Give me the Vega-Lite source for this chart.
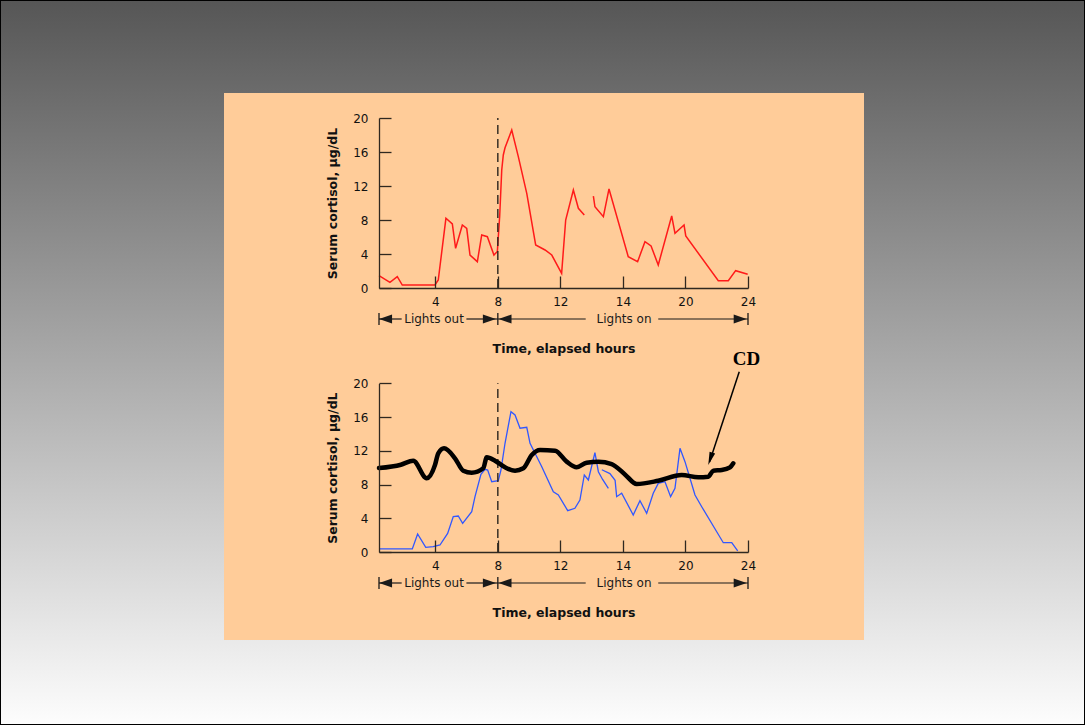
{
  "$schema": "https://vega.github.io/schema/vega-lite/v6.json",
  "width": 1085,
  "height": 725,
  "autosize": {"type": "fit", "contains": "padding"},
  "padding": 0,
  "background": "#ffffff",
  "view": {
    "fill": {"gradient": "linear", "x1": 0, "y1": 0, "x2": 0, "y2": 1, "stops": [{"offset": 0, "color": "#565656"}, {"offset": 1, "color": "#fdfdfd"}]},
    "stroke": "#000000",
    "strokeWidth": 2
  },
  "config": {
    "font": "DejaVu Sans",
    "axis": {
      "grid": false,
      "domainColor": "#2f2820",
      "domainWidth": 1.3,
      "tickColor": "#2f2820",
      "tickWidth": 1.3,
      "tickSize": -12,
      "labelFont": "DejaVu Sans",
      "labelFontSize": 12,
      "labelColor": "#111111",
      "labelFlush": false,
      "labelOverlap": false,
      "titleFont": "DejaVu Sans",
      "titleFontSize": 12.5,
      "titleFontWeight": "bold",
      "titleColor": "#111111"
    },
    "axisX": {"labelPadding": 20, "titlePadding": 35},
    "axisY": {"labelPadding": 23, "titlePadding": 13}
  },
  "datasets": {
    "redSerum": [
      {"hour": 0.4, "cortisol": 1.45, "segment": 1},
      {"hour": 1.1, "cortisol": 0.67, "segment": 1},
      {"hour": 1.57, "cortisol": 1.33, "segment": 1},
      {"hour": 1.89, "cortisol": 0.35, "segment": 1},
      {"hour": 3.98, "cortisol": 0.35, "segment": 1},
      {"hour": 4.19, "cortisol": 0.94, "segment": 1},
      {"hour": 4.68, "cortisol": 8.2, "segment": 1},
      {"hour": 5.09, "cortisol": 7.53, "segment": 1},
      {"hour": 5.3, "cortisol": 4.67, "segment": 1},
      {"hour": 5.73, "cortisol": 7.41, "segment": 1},
      {"hour": 6.01, "cortisol": 7.02, "segment": 1},
      {"hour": 6.22, "cortisol": 3.88, "segment": 1},
      {"hour": 6.69, "cortisol": 3.1, "segment": 1},
      {"hour": 6.97, "cortisol": 6.24, "segment": 1},
      {"hour": 7.33, "cortisol": 6.04, "segment": 1},
      {"hour": 7.75, "cortisol": 3.88, "segment": 1},
      {"hour": 7.97, "cortisol": 4.3, "segment": 1},
      {"hour": 8.12, "cortisol": 8.5, "segment": 1},
      {"hour": 8.25, "cortisol": 13.88, "segment": 1},
      {"hour": 8.35, "cortisol": 15.65, "segment": 1},
      {"hour": 8.46, "cortisol": 16.5, "segment": 1},
      {"hour": 8.89, "cortisol": 18.59, "segment": 1},
      {"hour": 9.31, "cortisol": 15.45, "segment": 1},
      {"hour": 9.85, "cortisol": 11.14, "segment": 1},
      {"hour": 10.42, "cortisol": 5.06, "segment": 1},
      {"hour": 11.02, "cortisol": 4.47, "segment": 1},
      {"hour": 11.45, "cortisol": 3.88, "segment": 1},
      {"hour": 12.08, "cortisol": 1.73, "segment": 1},
      {"hour": 12.34, "cortisol": 8.0, "segment": 1},
      {"hour": 12.83, "cortisol": 11.53, "segment": 1},
      {"hour": 13.15, "cortisol": 9.38, "segment": 1},
      {"hour": 13.53, "cortisol": 8.59, "segment": 1},
      {"hour": 14.11, "cortisol": 10.82, "segment": 2},
      {"hour": 14.21, "cortisol": 9.56, "segment": 2},
      {"hour": 14.75, "cortisol": 8.39, "segment": 2},
      {"hour": 15.11, "cortisol": 11.65, "segment": 2},
      {"hour": 16.34, "cortisol": 3.69, "segment": 2},
      {"hour": 16.94, "cortisol": 3.1, "segment": 2},
      {"hour": 17.41, "cortisol": 5.45, "segment": 2},
      {"hour": 17.8, "cortisol": 4.94, "segment": 2},
      {"hour": 18.26, "cortisol": 2.71, "segment": 2},
      {"hour": 19.12, "cortisol": 8.47, "segment": 2},
      {"hour": 19.33, "cortisol": 6.43, "segment": 2},
      {"hour": 19.91, "cortisol": 7.41, "segment": 2},
      {"hour": 20.02, "cortisol": 6.12, "segment": 2},
      {"hour": 22.1, "cortisol": 0.86, "segment": 2},
      {"hour": 22.74, "cortisol": 0.86, "segment": 2},
      {"hour": 23.21, "cortisol": 2.04, "segment": 2},
      {"hour": 23.98, "cortisol": 1.61, "segment": 2}
    ],
    "blueSerum": [
      {"hour": 0.4, "cortisol": 0.36, "segment": 1},
      {"hour": 2.53, "cortisol": 0.36, "segment": 1},
      {"hour": 2.87, "cortisol": 2.13, "segment": 1},
      {"hour": 3.39, "cortisol": 0.56, "segment": 1},
      {"hour": 3.87, "cortisol": 0.63, "segment": 1},
      {"hour": 4.3, "cortisol": 0.83, "segment": 1},
      {"hour": 4.79, "cortisol": 2.21, "segment": 1},
      {"hour": 5.15, "cortisol": 4.19, "segment": 1},
      {"hour": 5.47, "cortisol": 4.27, "segment": 1},
      {"hour": 5.75, "cortisol": 3.4, "segment": 1},
      {"hour": 6.33, "cortisol": 4.78, "segment": 1},
      {"hour": 6.54, "cortisol": 6.56, "segment": 1},
      {"hour": 6.92, "cortisol": 9.21, "segment": 1},
      {"hour": 7.18, "cortisol": 9.8, "segment": 1},
      {"hour": 7.35, "cortisol": 9.72, "segment": 1},
      {"hour": 7.61, "cortisol": 8.33, "segment": 1},
      {"hour": 8.03, "cortisol": 8.45, "segment": 1},
      {"hour": 8.2, "cortisol": 9.72, "segment": 1},
      {"hour": 8.46, "cortisol": 12.89, "segment": 1},
      {"hour": 8.84, "cortisol": 16.63, "segment": 1},
      {"hour": 9.1, "cortisol": 16.24, "segment": 1},
      {"hour": 9.42, "cortisol": 14.67, "segment": 1},
      {"hour": 9.85, "cortisol": 14.78, "segment": 1},
      {"hour": 10.06, "cortisol": 12.89, "segment": 1},
      {"hour": 10.81, "cortisol": 10.11, "segment": 1},
      {"hour": 11.55, "cortisol": 7.15, "segment": 1},
      {"hour": 11.87, "cortisol": 6.76, "segment": 1},
      {"hour": 12.47, "cortisol": 4.9, "segment": 1},
      {"hour": 12.93, "cortisol": 5.18, "segment": 1},
      {"hour": 13.25, "cortisol": 6.16, "segment": 1},
      {"hour": 13.53, "cortisol": 9.13, "segment": 1},
      {"hour": 13.79, "cortisol": 8.54, "segment": 1},
      {"hour": 14.21, "cortisol": 11.77, "segment": 1},
      {"hour": 14.43, "cortisol": 9.52, "segment": 1},
      {"hour": 14.7, "cortisol": 8.6, "segment": 1},
      {"hour": 15.07, "cortisol": 7.55, "segment": 1},
      {"hour": 14.65, "cortisol": 9.75, "segment": 2},
      {"hour": 15.17, "cortisol": 9.3, "segment": 2},
      {"hour": 15.5, "cortisol": 8.5, "segment": 2},
      {"hour": 15.6, "cortisol": 6.56, "segment": 2},
      {"hour": 15.92, "cortisol": 6.96, "segment": 2},
      {"hour": 16.66, "cortisol": 4.39, "segment": 2},
      {"hour": 17.09, "cortisol": 6.08, "segment": 2},
      {"hour": 17.52, "cortisol": 4.59, "segment": 2},
      {"hour": 17.94, "cortisol": 6.96, "segment": 2},
      {"hour": 18.26, "cortisol": 8.14, "segment": 2},
      {"hour": 18.69, "cortisol": 8.33, "segment": 2},
      {"hour": 19.05, "cortisol": 6.56, "segment": 2},
      {"hour": 19.33, "cortisol": 7.55, "segment": 2},
      {"hour": 19.65, "cortisol": 12.29, "segment": 2},
      {"hour": 19.97, "cortisol": 10.71, "segment": 2},
      {"hour": 20.61, "cortisol": 6.76, "segment": 2},
      {"hour": 21.04, "cortisol": 5.37, "segment": 2},
      {"hour": 22.42, "cortisol": 1.1, "segment": 2},
      {"hour": 22.96, "cortisol": 1.1, "segment": 2},
      {"hour": 23.34, "cortisol": 0.12, "segment": 2}
    ],
    "cdSerum": [
      {"hour": 0.4, "cortisol": 9.95},
      {"hour": 1.8, "cortisol": 10.35},
      {"hour": 2.59, "cortisol": 10.82},
      {"hour": 3.45, "cortisol": 8.74},
      {"hour": 3.98, "cortisol": 10.31},
      {"hour": 4.19, "cortisol": 11.7},
      {"hour": 4.56, "cortisol": 12.29},
      {"hour": 5.26, "cortisol": 11.11},
      {"hour": 5.79, "cortisol": 9.64},
      {"hour": 6.33, "cortisol": 9.4},
      {"hour": 7.07, "cortisol": 9.92},
      {"hour": 7.29, "cortisol": 11.23},
      {"hour": 7.82, "cortisol": 10.82},
      {"hour": 8.46, "cortisol": 10.04},
      {"hour": 9.1, "cortisol": 9.64},
      {"hour": 9.63, "cortisol": 9.92},
      {"hour": 10.17, "cortisol": 11.5},
      {"hour": 10.7, "cortisol": 12.09},
      {"hour": 11.66, "cortisol": 12.01},
      {"hour": 12.4, "cortisol": 10.71},
      {"hour": 13.04, "cortisol": 10.04},
      {"hour": 13.68, "cortisol": 10.59},
      {"hour": 14.43, "cortisol": 10.71},
      {"hour": 15.28, "cortisol": 10.43},
      {"hour": 16.13, "cortisol": 9.2},
      {"hour": 16.88, "cortisol": 8.06},
      {"hour": 18.26, "cortisol": 8.45},
      {"hour": 19.76, "cortisol": 9.13},
      {"hour": 20.82, "cortisol": 8.86},
      {"hour": 21.46, "cortisol": 8.93},
      {"hour": 21.78, "cortisol": 9.64},
      {"hour": 22.32, "cortisol": 9.72},
      {"hour": 22.85, "cortisol": 10.04},
      {"hour": 23.06, "cortisol": 10.52}
    ],
    "lightsLines": [
      {"row": 0, "hour": 0.4, "hourEnd": 1.85},
      {"row": 0, "hour": 5.99, "hourEnd": 8},
      {"row": 0, "hour": 8, "hourEnd": 13.62},
      {"row": 0, "hour": 18.26, "hourEnd": 24},
      {"row": 1, "hour": 0.4, "hourEnd": 1.85},
      {"row": 1, "hour": 5.99, "hourEnd": 8},
      {"row": 1, "hour": 8, "hourEnd": 13.62},
      {"row": 1, "hour": 18.26, "hourEnd": 24}
    ],
    "lightsBars": [
      {"row": 0, "hour": 0.4}, {"row": 0, "hour": 8}, {"row": 0, "hour": 24},
      {"row": 1, "hour": 0.4}, {"row": 1, "hour": 8}, {"row": 1, "hour": 24}
    ],
    "lightsHeads": [
      {"row": 0, "hour": 0.82, "dir": "left"}, {"row": 0, "hour": 7.46, "dir": "right"},
      {"row": 0, "hour": 8.46, "dir": "left"}, {"row": 0, "hour": 23.5, "dir": "right"},
      {"row": 1, "hour": 0.82, "dir": "left"}, {"row": 1, "hour": 7.46, "dir": "right"},
      {"row": 1, "hour": 8.46, "dir": "left"}, {"row": 1, "hour": 23.5, "dir": "right"}
    ],
    "lightsLabels": [
      {"row": 0, "hour": 3.92, "label": "Lights out"},
      {"row": 0, "hour": 16.07, "label": "Lights on"},
      {"row": 1, "hour": 3.92, "label": "Lights out"},
      {"row": 1, "hour": 16.07, "label": "Lights on"}
    ]
  },
  "layer": [
    {
      "data": {"values": [{"panel": "slide"}]},
      "mark": {"type": "rect", "color": "#FFCC99", "opacity": 1},
      "encoding": {
        "x": {"datum": 0, "type": "quantitative", "scale": {"domain": [0, 1], "range": [224, 864], "nice": false}, "axis": null},
        "x2": {"datum": 1},
        "y": {"datum": 0, "type": "quantitative", "scale": {"domain": [0, 1], "range": [93, 640], "nice": false}, "axis": null},
        "y2": {"datum": 1}
      }
    },
    {
      "data": {"name": "redSerum"},
      "encoding": {
        "x": {"field": "hour", "type": "quantitative", "scale": {"domain": [0.4, 24], "range": [379, 748], "nice": false, "zero": false},
              "axis": {"orient": "bottom", "offset": -437, "zindex": 2, "values": [4, 8, 12, 16, 20, 24], "labelExpr": "datum.value == 16 ? '14' : datum.label", "title": "Time, elapsed hours"}},
        "y": {"field": "cortisol", "type": "quantitative", "scale": {"domain": [0, 20], "range": [288, 118], "nice": false},
              "axis": {"orient": "left", "offset": -379, "zindex": 2, "values": [0, 4, 8, 12, 16, 20], "title": "Serum cortisol, µg/dL"}}
      },
      "layer": [
        {"mark": {"type": "line", "color": "#ff1a1a", "strokeWidth": 1.5}, "encoding": {"detail": {"field": "segment"}}},
        {"data": {"values": [{"hour": 8, "cortisol": 0, "cortisolEnd": 20}]}, "mark": {"type": "rule", "color": "#2a241e", "strokeDash": [9, 5], "strokeWidth": 1.4},
         "encoding": {"y2": {"field": "cortisolEnd"}}}
      ]
    },
    {
      "data": {"name": "blueSerum"},
      "encoding": {
        "x": {"field": "hour", "type": "quantitative", "scale": {"domain": [0.4, 24], "range": [379, 748], "nice": false, "zero": false},
              "axis": {"orient": "bottom", "offset": -173, "zindex": 2, "values": [4, 8, 12, 16, 20, 24], "labelExpr": "datum.value == 16 ? '14' : datum.label", "title": "Time, elapsed hours"}},
        "y": {"field": "cortisol", "type": "quantitative", "scale": {"domain": [0, 20], "range": [552, 383.3], "nice": false},
              "axis": {"orient": "left", "offset": -379, "zindex": 2, "values": [0, 4, 8, 12, 16, 20], "title": "Serum cortisol, µg/dL"}}
      },
      "layer": [
        {"mark": {"type": "line", "color": "#3157ff", "strokeWidth": 1.3}, "encoding": {"detail": {"field": "segment"}}},
        {"data": {"values": [{"hour": 8, "cortisol": 0, "cortisolEnd": 20}]}, "mark": {"type": "rule", "color": "#2a241e", "strokeDash": [9, 5], "strokeWidth": 1.4},
         "encoding": {"y2": {"field": "cortisolEnd"}}},
        {"data": {"name": "cdSerum"}, "mark": {"type": "line", "color": "#000000", "strokeWidth": 4.5, "interpolate": "monotone", "strokeCap": "round", "strokeJoin": "round"}},
        {"data": {"values": [{"hour": 23.44, "cortisol": 21.38, "hourEnd": 21.54, "cortisolEnd": 10.67}]},
         "mark": {"type": "rule", "color": "#000000", "strokeWidth": 1.5},
         "encoding": {"x2": {"field": "hourEnd"}, "y2": {"field": "cortisolEnd"}}},
        {"data": {"values": [{"hour": 21.59, "cortisol": 11.05}]},
         "mark": {"type": "point", "shape": "M0,-1L0.45,1L-0.45,1Z", "size": 169, "angle": 198.4, "filled": true, "color": "#000000", "opacity": 1}},
        {"data": {"values": [{"hour": 23.9, "cortisol": 22.88, "label": "CD"}]},
         "mark": {"type": "text", "font": "Liberation Serif", "fontWeight": "bold", "fontSize": 19, "color": "#000000"},
         "encoding": {"text": {"field": "label"}}}
      ]
    },
    {
      "encoding": {
        "x": {"field": "hour", "type": "quantitative", "scale": {"domain": [0.4, 24], "range": [379, 748], "nice": false, "zero": false}, "axis": null},
        "y": {"field": "row", "type": "quantitative", "scale": {"domain": [0, 1], "range": [319, 583], "nice": false}, "axis": null}
      },
      "layer": [
        {"data": {"name": "lightsLines"}, "mark": {"type": "rule", "color": "#1a1a1a", "strokeWidth": 1.2},
         "encoding": {"x2": {"field": "hourEnd"}}},
        {"data": {"name": "lightsBars"}, "mark": {"type": "tick", "orient": "vertical", "color": "#1a1a1a", "size": 12, "thickness": 1.3, "opacity": 1}},
        {"data": {"name": "lightsHeads"}, "mark": {"type": "point", "size": 169, "filled": true, "color": "#1a1a1a", "opacity": 1},
         "encoding": {"shape": {"field": "dir", "type": "nominal", "scale": {"domain": ["left", "right"], "range": ["M-1,0L1,-0.7L1,0.7Z", "M1,0L-1,-0.7L-1,0.7Z"]}, "legend": null}}},
        {"data": {"name": "lightsLabels"}, "mark": {"type": "text", "fontSize": 12, "color": "#1a1a1a", "baseline": "middle"},
         "encoding": {"text": {"field": "label"}}}
      ]
    }
  ],
  "resolve": {
    "scale": {"x": "independent", "y": "independent"},
    "axis": {"x": "independent", "y": "independent"}
  }
}
